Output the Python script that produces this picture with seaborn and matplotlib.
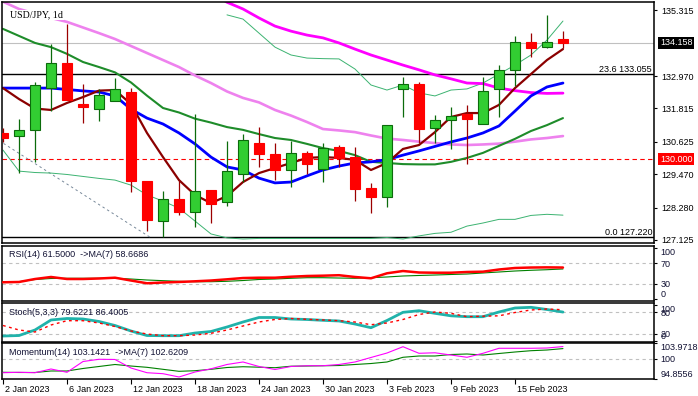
import matplotlib
matplotlib.use("Agg")
import matplotlib.pyplot as plt
import matplotlib.transforms as mtransforms
import numpy as np
import pandas as pd
import seaborn as sns

# ---------------------------------------------------------------------------
# DATA  (USD/JPY daily, 2 Jan - 20 Feb 2023)
# ---------------------------------------------------------------------------
dates = ["2 Jan", "3 Jan", "4 Jan", "5 Jan", "6 Jan",
         "9 Jan", "10 Jan", "11 Jan", "12 Jan", "13 Jan",
         "16 Jan", "17 Jan", "18 Jan", "19 Jan", "20 Jan",
         "23 Jan", "24 Jan", "25 Jan", "26 Jan", "27 Jan",
         "30 Jan", "31 Jan", "1 Feb", "2 Feb", "3 Feb",
         "6 Feb", "7 Feb", "8 Feb", "9 Feb", "10 Feb",
         "13 Feb", "14 Feb", "15 Feb", "16 Feb", "17 Feb", "20 Feb"]

opens = [130.93, 130.84, 131.03, 132.53, 133.42, 131.96, 131.78, 132.09, 132.39, 129.23,
         127.79, 128.58, 128.11, 128.90, 128.48, 129.47, 130.57, 130.18, 129.61, 130.22,
         129.65, 130.43, 130.07, 128.97, 128.65, 132.50, 132.67, 131.11, 131.39, 131.60,
         131.25, 132.50, 133.17, 134.17, 133.99, 134.28]
highs = [131.11, 131.44, 132.77, 134.10, 134.82, 132.69, 132.50, 132.90, 132.54, 129.23,
         128.86, 129.26, 131.61, 128.90, 130.65, 130.90, 131.15, 130.59, 130.65, 130.30,
         130.57, 130.50, 130.45, 129.16, 131.21, 132.92, 132.77, 131.58, 131.86, 131.94,
         132.92, 133.35, 134.40, 134.49, 135.15, 134.57]
lows = [130.62, 129.50, 129.92, 131.72, 132.10, 131.31, 131.38, 132.09, 128.85, 127.46,
        127.22, 128.02, 127.58, 127.74, 128.35, 129.20, 129.74, 129.26, 129.02, 129.48,
        129.20, 129.74, 128.53, 128.08, 128.31, 131.52, 130.57, 130.57, 130.36, 129.82,
        131.25, 131.52, 132.61, 133.64, 133.96, 133.96]
closes = [130.75, 131.05, 132.64, 133.42, 132.12, 131.88, 132.28, 132.50, 129.23, 127.85,
          128.60, 128.11, 128.88, 128.41, 129.57, 130.68, 130.18, 129.61, 130.22, 129.84,
          130.39, 130.06, 128.95, 128.67, 131.21, 132.67, 131.07, 131.39, 131.56, 131.43,
          132.43, 133.17, 134.17, 133.96, 134.17, 134.16]

nan = np.nan
ma_fast = [132.54, 132.15, 131.81, 131.76, 132.01, 132.22, 132.45, 132.47, 131.97, 130.94,
           130.08, 129.26, 128.73, 128.44, 128.69, 129.19, 129.51, 129.69, 129.87, 130.05,
           130.08, 130.05, 129.98, 129.62, 129.87, 130.37, 130.51, 130.97, 131.51, 131.65,
           131.65, 131.94, 132.54, 133.04, 133.54, 133.93]
ma_mid = [132.54, 132.54, 132.54, 132.54, 132.49, 132.44, 132.40, 132.26, 131.79, 131.47,
          131.26, 130.94, 130.55, 130.08, 129.73, 129.62, 129.33, 129.16, 129.19, 129.41,
          129.62, 129.76, 129.87, 129.91, 129.99, 130.15, 130.30, 130.46, 130.62, 130.76,
          130.94, 131.19, 131.72, 132.26, 132.58, 132.72]
bb_mid = [134.65, 134.40, 134.15, 134.00, 133.76, 133.47, 133.29, 133.10, 132.74, 132.27,
          131.83, 131.67, 131.45, 131.31, 131.15, 131.05, 130.90, 130.76, 130.69, 130.55,
          130.40, 130.30, 130.15, 129.91, 129.87, 129.83, 129.82, 129.82, 129.91, 130.05,
          130.23, 130.48, 130.73, 131.01, 131.22, 131.47]
bb_up = [nan] * 14 + [135.15, 135.00, 134.50, 134.00, 133.72, 133.61, 133.59, 133.58,
                      133.22, 132.65, 132.47, 132.65, 132.37, 132.26, 132.47, 132.51,
                      132.72, 133.04, 133.36, 133.72, 134.25, 134.93]
bb_low = [130.33, 129.58, 129.53, 129.51, 129.46, 129.39, 129.32, 129.26, 129.08, 128.73,
          128.51, 128.26, 127.80, 127.34, 127.20, 127.16, 127.18, 127.18, 127.18, 127.18,
          127.18, 127.18, 127.18, 127.18, 127.21, 127.16, 127.27, 127.36, 127.40, 127.62,
          127.73, 127.86, 127.86, 128.00, 128.04, 128.01]
ma_slow = [nan] * 13 + [135.95, 135.60, 135.36, 135.04, 134.75, 134.57, 134.43, 134.33,
                        134.15, 133.93, 133.72, 133.54, 133.36, 133.19, 133.01, 132.87,
                        132.72, 132.70, 132.54, 132.45, 132.38, 132.35, 132.36]
ma_long = [135.62, 135.36, 135.20, 135.04, 134.90, 134.70, 134.50, 134.29, 134.04, 133.79,
           133.54, 133.29, 132.99, 132.72, 132.42, 132.19, 132.03, 131.76, 131.56, 131.33,
           131.08, 131.03, 130.97, 130.85, 130.74, 130.69, 130.63, 130.58, 130.53, 130.51,
           130.53, 130.56, 130.63, 130.71, 130.76, 130.83]

rsi = [33.1, 33.7, 39.4, 43.3, 39.4, 39.4, 40.4, 41.9, 36.5, 31.2,
       32.7, 33.7, 35.0, 36.5, 38.8, 41.3, 41.9, 41.9, 43.8, 45.2,
       45.8, 46.7, 43.3, 40.8, 50.4, 54.8, 51.9, 51.5, 51.5, 52.9,
       53.5, 57.7, 60.6, 61.5, 61.8, 61.5]
rsi_ma = [34.2, 34.2, 38.5, 40.4, 40.8, 40.8, 40.8, 40.8, 39.4, 37.5,
          36.2, 35.0, 34.2, 34.2, 35.0, 36.5, 38.5, 39.4, 40.8, 41.9,
          41.9, 41.3, 40.8, 41.9, 43.3, 45.2, 46.2, 47.1, 48.1, 49.0,
          51.0, 52.9, 54.8, 56.2, 57.3, 58.7]
stoch_k = [13.4, 14.8, 30.3, 58.3, 62.5, 61.1, 54.1, 42.9, 27.5, 14.8,
           14.3, 14.3, 21.8, 26.1, 38.7, 52.7, 65.3, 65.3, 61.1, 59.7,
           57.4, 55.5, 47.0, 36.7, 56.9, 79.8, 84.3, 77.0, 70.0, 67.5,
           67.5, 80.7, 91.9, 93.8, 87.7, 80.5]
stoch_d = [42.9, 30.3, 24.6, 44.3, 56.3, 56.3, 49.9, 40.1, 27.5, 19.0,
           14.3, 14.3, 16.2, 21.0, 30.3, 41.5, 52.7, 59.7, 62.5, 60.2,
           58.3, 56.3, 52.7, 45.1, 49.9, 59.7, 73.7, 80.7, 77.0, 67.5,
           68.9, 70.0, 79.3, 86.3, 89.1, 87.0]
momentum = [96.46, 96.57, 96.46, 97.41, 96.57, 99.32, 99.89, 99.84, 97.66, 96.46,
            96.21, 95.37, 96.64, 97.46, 98.56, 99.20, 98.05, 97.28, 98.05, 98.25,
            98.25, 98.56, 99.20, 100.35, 101.49, 103.10, 101.42, 101.55, 100.98, 100.40,
            101.42, 102.70, 102.70, 102.70, 102.77, 103.14]
mom_ma = [96.57, 96.52, 96.52, 96.90, 96.90, 97.54, 98.05, 98.56, 98.17, 97.84,
          97.33, 96.82, 96.97, 97.33, 97.79, 97.99, 97.87, 97.74, 98.12, 98.17,
          98.23, 98.30, 98.56, 98.81, 99.20, 100.40, 100.73, 100.73, 101.11, 101.24,
          100.98, 101.37, 101.75, 102.08, 102.26, 102.62]

# fibonacci retracement: anchors (bar index, price) and levels
fib_idx = [-58.5, 9.2]
fib_price = [151.94, 127.22]
fib_levels = [133.055, 127.220]
fib_names = ["23.6 133.055", "0.0 127.220"]
last_price = 134.158
round_level = 130.000

price_ticks = [135.315, 132.970, 131.815, 130.625, 129.470, 128.280, 127.125]
date_ticks = [0, 4, 8, 12, 16, 20, 24, 28, 32]
date_labels = ["2 Jan 2023", "6 Jan 2023", "12 Jan 2023", "18 Jan 2023", "24 Jan 2023",
               "30 Jan 2023", "3 Feb 2023", "9 Feb 2023", "15 Feb 2023"]

df = pd.DataFrame({
    "date": dates, "open": opens, "high": highs, "low": lows, "close": closes,
    "ma_fast": ma_fast, "ma_mid": ma_mid, "bb_mid": bb_mid, "bb_up": bb_up,
    "bb_low": bb_low, "ma_slow": ma_slow, "ma_long": ma_long,
    "rsi": rsi, "rsi_ma": rsi_ma, "stoch_k": stoch_k, "stoch_d": stoch_d,
    "mom": momentum, "mom_ma": mom_ma,
})
df["i"] = np.arange(len(df))

# ---------------------------------------------------------------------------
# STYLE / LAYOUT (pixel boxes of the MT4-like panes)
# ---------------------------------------------------------------------------
sns.set_theme(style="white")
plt.rcParams["font.family"] = ["Liberation Sans", "DejaVu Sans"]
plt.rcParams["axes.edgecolor"] = "black"
plt.rcParams["axes.linewidth"] = 1.1

W, H = 698, 396
fig = plt.figure(figsize=(W / 100, H / 100), dpi=100)
fig.patch.set_facecolor("white")


def pane(top, bottom, left=2, right=654):
    return [left / W, 1 - bottom / H, (right - left) / W, (bottom - top) / H]


ax = fig.add_axes(pane(2, 242.5))
ax_rsi = fig.add_axes(pane(246, 301))
ax_sto = fig.add_axes(pane(303, 341.7))
ax_mom = fig.add_axes(pane(343.3, 379))

XLIM = (-0.0625, 40.69)
FS = 6.5
TXT = "#111133"

# ---------------------------------------------------------------------------
# MAIN PRICE PANE
# ---------------------------------------------------------------------------
ax.axhline(last_price, color="#C0C0C0", lw=0.8, zorder=1)
ax.axhline(round_level, color="red", lw=0.8, ls=(0, (4, 3)), zorder=1)
for lvl in fib_levels:
    ax.axhline(lvl, color="black", lw=1.0, zorder=1)
ax.plot(fib_idx, fib_price, color="#778899", lw=0.7, ls=(0, (2.5, 3)), zorder=1)

lines = [("bb_up", "#3CB371", 0.7), ("bb_low", "#3CB371", 0.7),
         ("ma_long", "#EE82EE", 1.9), ("ma_slow", "#FF00FF", 2.0),
         ("bb_mid", "#1E8C2A", 1.5), ("ma_mid", "#0000FF", 2.0),
         ("ma_fast", "#8B0000", 1.6)]
for col, color, lw in lines:
    sns.lineplot(data=df, x="i", y=col, ax=ax, color=color, linewidth=lw,
                 legend=False, zorder=2)

up = df["close"] >= df["open"]
body_bottom = df[["open", "close"]].min(axis=1)
body_height = (df["close"] - df["open"]).abs().clip(lower=0.03)
ax.vlines(df["i"], df["low"], df["high"],
          colors=np.where(up, "#0B6B0B", "#9B0000"), lw=0.9, zorder=3)
ax.bar(df["i"], body_height, bottom=body_bottom, width=0.62,
       color=np.where(up, "#32CD32", "#FF0000"),
       edgecolor=np.where(up, "#0B6B0B", "#FF0000"), linewidth=0.8, zorder=4)

ax.set_xlim(*XLIM)
ax.set_ylim(127.035, 135.609)
ax.set_xlabel("")
ax.set_ylabel("")
ax.set_xticks([])
ax.yaxis.tick_right()
ax.set_yticks(price_ticks)
ax.set_yticklabels([f"{v:.3f}" for v in price_ticks])
ax.tick_params(axis="y", right=True, length=2.5, width=0.8, pad=2.5,
               labelsize=FS, colors="black")

yblend = mtransforms.blended_transform_factory(ax.transAxes, ax.transData)
for lvl, name in zip(fib_levels, fib_names):
    ax.text(0.997, lvl, name, transform=yblend, ha="right", va="bottom",
            fontsize=FS, color="black", zorder=6)
for lvl, bg in [(last_price, "black"), (round_level, "#FF0000")]:
    ax.text(1.0 + 6 / 652, lvl, f"{lvl:.3f}", transform=yblend, ha="left",
            va="center", fontsize=FS, color="white", zorder=6, clip_on=False,
            bbox=dict(facecolor=bg, edgecolor="none", pad=1.2))

ax.text(8 / 652, 1 - 13 / 240.5, "USD/JPY, 1d", transform=ax.transAxes,
        family=["Liberation Serif", "DejaVu Serif"], fontsize=7.2, color="black",
        va="center", ha="left", zorder=7,
        bbox=dict(facecolor="white", edgecolor="none", pad=0.4))

# ---------------------------------------------------------------------------
# INDICATOR PANES
# ---------------------------------------------------------------------------
def level_lines(a, levels):
    for lvl in levels:
        a.axhline(lvl, color="#C0C0C0", lw=0.8, ls=(0, (3, 3)), zorder=1)


def right_ticks(a, ticks, labels):
    a.yaxis.tick_right()
    a.set_yticks(ticks)
    a.set_yticklabels(labels)
    a.tick_params(axis="y", right=True, length=2, width=0.8, pad=2.5,
                  labelsize=FS, colors="black")
    tl = a.get_yticklabels()
    tl[0].set_verticalalignment("bottom")
    tl[-1].set_verticalalignment("top")
    for t in tl:
        t.set_color(TXT)


# RSI
level_lines(ax_rsi, [30, 70])
sns.lineplot(data=df, x="i", y="rsi_ma", ax=ax_rsi, color="#008000", linewidth=0.8,
             legend=False, zorder=2)
sns.lineplot(data=df, x="i", y="rsi", ax=ax_rsi, color="#FF0000", linewidth=1.8,
             legend=False, zorder=3)
ax_rsi.set_ylim(-2.9, 102.9)
right_ticks(ax_rsi, [0, 30, 70, 100], ["0", "30", "70", "100"])
ax_rsi.text(7 / 652, 0.845, "RSI(14) 61.5000  ->MA(7) 58.6686",
            transform=ax_rsi.transAxes, fontsize=FS, color=TXT, va="center")

# Stochastic
level_lines(ax_sto, [20, 80])
sns.lineplot(data=df, x="i", y="stoch_k", ax=ax_sto, color="#20B2AA", linewidth=2.0,
             legend=False, zorder=2)
sns.lineplot(data=df, x="i", y="stoch_d", ax=ax_sto, color="#FF0000", linewidth=1.0,
             linestyle=(0, (2, 2.5)), legend=False, zorder=3)
ax_sto.set_ylim(-2.5, 105.9)
right_ticks(ax_sto, [0, 20, 80, 100], ["0", "20", "80", "100"])
ax_sto.text(7 / 652, 0.76, "Stoch(5,3,3) 79.6221 86.4005",
            transform=ax_sto.transAxes, fontsize=FS, color=TXT, va="center")

# Momentum
level_lines(ax_mom, [100])
sns.lineplot(data=df, x="i", y="mom_ma", ax=ax_mom, color="#008000", linewidth=0.8,
             legend=False, zorder=2)
sns.lineplot(data=df, x="i", y="mom", ax=ax_mom, color="#FF00FF", linewidth=0.8,
             legend=False, zorder=3)
ax_mom.set_ylim(94.8556, 103.9718)
right_ticks(ax_mom, [94.8556, 100, 103.9718], ["94.8556", "100", "103.9718"])
ax_mom.text(7 / 652, 0.748, "Momentum(14) 103.1421  ->MA(7) 102.6209",
            transform=ax_mom.transAxes, fontsize=FS, color=TXT, va="center")

for a in (ax_rsi, ax_sto, ax_mom):
    a.set_xlim(*XLIM)
    a.set_xlabel("")
    a.set_ylabel("")
for a in (ax_rsi, ax_sto):
    a.set_xticks([])

# date axis under the last pane
ax_mom.set_xticks(date_ticks)
ax_mom.set_xticklabels(date_labels)
ax_mom.tick_params(axis="x", bottom=True, length=3.5, width=0.8, pad=0.5,
                   labelsize=FS, colors="black")
shift = mtransforms.ScaledTranslation(2 / 100, 0, fig.dpi_scale_trans)
for lab in ax_mom.get_xticklabels():
    lab.set_horizontalalignment("left")
    lab.set_transform(lab.get_transform() + shift)

for a in (ax, ax_rsi, ax_sto, ax_mom):
    for s in a.spines.values():
        s.set_color("black")
        s.set_linewidth(1.1)
    a.set_facecolor("white")

fig.savefig("out.png", dpi=100, facecolor="white")
